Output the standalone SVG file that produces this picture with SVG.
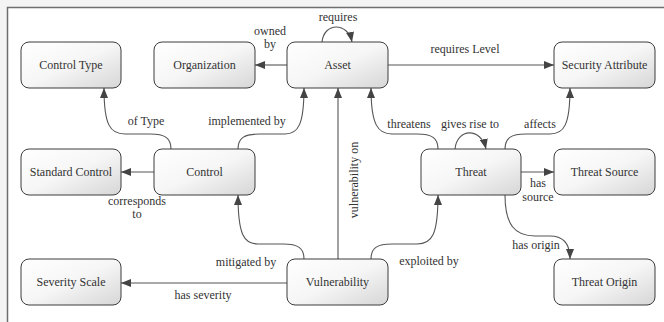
<svg xmlns="http://www.w3.org/2000/svg" width="664" height="322" viewBox="0 0 664 322">
<defs>
<linearGradient id="g" x1="0" y1="0" x2="1" y2="1">
<stop offset="0" stop-color="#ffffff"/>
<stop offset="0.5" stop-color="#f6f6f6"/>
<stop offset="1" stop-color="#d6d6d6"/>
</linearGradient>
<marker id="a" markerUnits="userSpaceOnUse" markerWidth="10" markerHeight="8" refX="10" refY="4" orient="auto">
<path d="M0,0 L10,4 L0,8 z" fill="#444"/>
</marker>
<style>
.n rect{fill:url(#g);stroke:#3c3c3c;stroke-width:1}
.n text{font-size:12px;fill:#333;text-anchor:middle}
.e path{fill:none;stroke:#555;stroke-width:1.1;marker-end:url(#a)}
.l{font-size:12px;fill:#333;text-anchor:middle}
</style>
</defs>
<rect x="0" y="0" width="664" height="322" fill="#f4f4f4"/>
<rect x="7.5" y="7.5" width="670" height="330" fill="#ffffff" stroke="#6e6e6e" stroke-width="1.5"/>

<g class="e" id="connectors">
<path d="M287,65 L255,65"/>
<path d="M322,42 C324,22 348,22 352,42"/>
<path d="M388,65 L554,65"/>
<path d="M171,149 C171,138 165,134 150,134 L125,134 C110,134 104,125 104,88"/>
<path d="M238,149 C238,138 244,134 260,134 L285,134 C298,134 304,125 304,88"/>
<path d="M154,172 L121,172"/>
<path d="M304,259 C304,248 298,244 283,244 L258,244 C244,244 238,235 238,195"/>
<path d="M287,283 L121,283"/>
<path d="M338,259 L338,88"/>
<path d="M438,149 C438,138 432,134 417,134 L392,134 C378,134 371,125 371,88"/>
<path d="M455,149 C457,128 481,127 486,149"/>
<path d="M505,149 C505,138 511,134 526,134 L550,134 C564,134 570,125 570,88"/>
<path d="M521,172 L554,172"/>
<path d="M505,195 C505,225 515,236 535,236 L550,236 C565,236 570,245 570,259"/>
<path d="M371,259 C371,248 377,244 392,244 L417,244 C432,244 438,235 438,195"/>
</g>

<g id="labels" font-family="'Liberation Serif', 'DejaVu Serif', serif">
<text class="l" x="270" y="35">owned</text>
<text class="l" x="270" y="48">by</text>
<text class="l" x="338" y="21">requires</text>
<text class="l" x="465" y="53">requires Level</text>
<text class="l" x="146" y="125">of Type</text>
<text class="l" x="247" y="125">implemented by</text>
<text class="l" x="137" y="205">corresponds</text>
<text class="l" x="137" y="218">to</text>
<text class="l" x="246" y="266">mitigated by</text>
<text class="l" x="203" y="299">has severity</text>
<text class="l" transform="translate(358,180) rotate(-90)">vulnerability on</text>
<text class="l" x="409" y="128">threatens</text>
<text class="l" x="470" y="128">gives rise to</text>
<text class="l" x="540" y="128">affects</text>
<text class="l" x="538" y="187">has</text>
<text class="l" x="538" y="201">source</text>
<text class="l" x="536" y="249">has origin</text>
<text class="l" x="429" y="265">exploited by</text>
</g>

<g font-family="'Liberation Serif', 'DejaVu Serif', serif">
<g class="n" id="controltype"><rect x="21" y="42" width="100" height="46" rx="8"/><text x="71" y="69">Control Type</text></g>
<g class="n" id="organization"><rect x="154" y="42" width="101" height="46" rx="8"/><text x="204.5" y="69">Organization</text></g>
<g class="n" id="asset"><rect x="287" y="42" width="101" height="46" rx="8"/><text x="337.5" y="69">Asset</text></g>
<g class="n" id="securityattribute"><rect x="554" y="42" width="101" height="46" rx="8"/><text x="604.5" y="69">Security Attribute</text></g>
<g class="n" id="standardcontrol"><rect x="21" y="149" width="100" height="46" rx="8"/><text x="71" y="176">Standard Control</text></g>
<g class="n" id="control"><rect x="154" y="149" width="101" height="46" rx="8"/><text x="204.5" y="176">Control</text></g>
<g class="n" id="threat"><rect x="421" y="149" width="100" height="46" rx="8"/><text x="471" y="176">Threat</text></g>
<g class="n" id="threatsource"><rect x="554" y="149" width="101" height="46" rx="8"/><text x="604.5" y="176">Threat Source</text></g>
<g class="n" id="severityscale"><rect x="21" y="259" width="100" height="46" rx="8"/><text x="71" y="286">Severity Scale</text></g>
<g class="n" id="vulnerability"><rect x="287" y="259" width="101" height="46" rx="8"/><text x="337.5" y="286">Vulnerability</text></g>
<g class="n" id="threatorigin"><rect x="554" y="259" width="101" height="46" rx="8"/><text x="604.5" y="286">Threat Origin</text></g>
</g>
</svg>
